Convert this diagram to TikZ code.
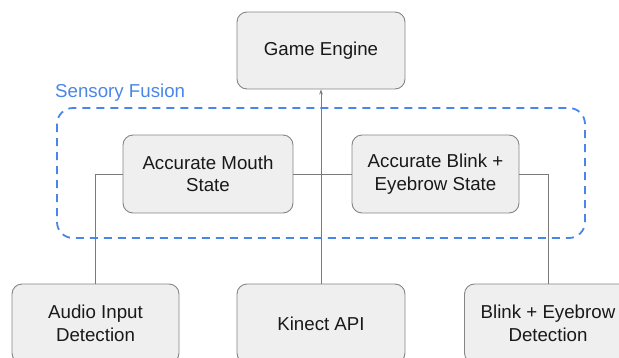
\documentclass[tikz,border=0pt]{standalone}
\usepackage{fontspec}
\setmainfont{Liberation Sans}
\usetikzlibrary{arrows.meta}
\definecolor{boxfill}{HTML}{EFEFEF}
\definecolor{boxline}{HTML}{858585}
\definecolor{conn}{HTML}{7A7A7A}
\definecolor{fusion}{HTML}{4A86E8}
\tikzset{
  blockbox/.style={draw=boxline, line width=0.9pt, fill=boxfill, rounded corners=10pt,
    align=center, inner sep=0pt, text=black!90,
    font=\fontsize{18.7}{22.5}\selectfont},
  connline/.style={draw=conn, line width=0.9pt},
  fusionbox/.style={draw=fusion, line width=1.8pt, dash pattern=on 8pt off 6pt, rounded corners=16pt},
}
\begin{document}
\begin{tikzpicture}[x=1pt,y=-1pt]
\useasboundingbox (0,0) rectangle (619,357);
\clip (0,0) rectangle (619,357);
% sensory fusion group
\draw[fusionbox] (57,108) rectangle (585,238);
\node[anchor=base west, inner sep=0pt, text=fusion, font=\fontsize{18.7}{22.5}\selectfont] (sf) at (55,97) {Sensory Fusion};
% boxes
\node[blockbox, minimum width=168pt, minimum height=77pt] (ge) at (321,50.5) {Game Engine};
\node[blockbox, minimum width=170pt, minimum height=78pt] (mouth) at (208,174) {Accurate Mouth\\State};
\node[blockbox, minimum width=167pt, minimum height=78pt] (blink) at (435.5,174) {Accurate Blink +\\Eyebrow State};
\node[blockbox, minimum width=167pt, minimum height=79pt] (audio) at (95.5,323.5) {Audio Input\\Detection};
\node[blockbox, minimum width=168pt, minimum height=79pt] (kinect) at (321,323.5) {Kinect API};
\node[blockbox, minimum width=167pt, minimum height=79pt] (bdet) at (548,323.5) {Blink + Eyebrow\\Detection};
% connectors
\begin{scope}[on background layer/.try]
\end{scope}
\draw[connline] (mouth.east) -- (blink.west);
\draw[connline] (mouth.west) -| (audio.north);
\draw[connline] (blink.east) -| (bdet.north);
\draw[connline, -{Stealth[length=5pt,width=3.5pt]}] (kinect.north) -- (ge.south);
\end{tikzpicture}
\end{document}
